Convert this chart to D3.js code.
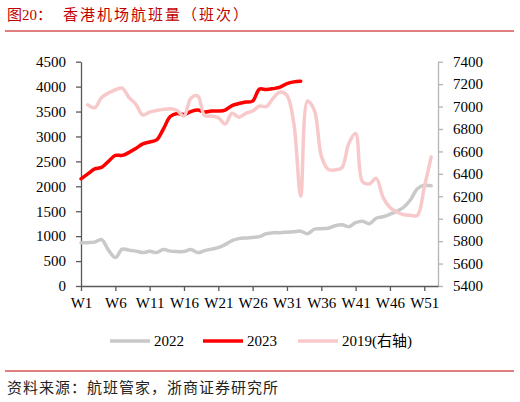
<!DOCTYPE html>
<html><head><meta charset="utf-8">
<script src="https://cdn.jsdelivr.net/npm/d3@7"></script>
<style>
body{margin:0;background:#fff}
svg{display:block;font-family:"Liberation Serif","Noto Sans CJK SC",serif}
.ax path,.ax line{stroke:#595959;stroke-width:1.3}
.ax.r path,.ax.r line{stroke:#b4b4b4}
.ax text{font-size:15px;fill:#000;font-family:"Liberation Serif",serif}
.ttl{font-size:15px;fill:#c00000}
.src{font-size:15px;fill:#222;letter-spacing:1px}
</style></head><body>
<svg id="chart" width="520" height="402"></svg>
<script>
// week ticks on the x axis and the two value axes
const X_TICKS=['W1','W6','W11','W16','W21','W26','W31','W36','W41','W46','W51'];
const Y_LEFT=[0,500,1000,1500,2000,2500,3000,3500,4000,4500];
const Y_RIGHT=[5400,5600,5800,6000,6200,6400,6600,6800,7000,7200,7400];

// series, one value per week starting at W1 (null = no data)
const S2022=[870,870,880,930,720,570,740,720,700,670,695,670,730,700,690,690,730,670,710,740,
  770,830,910,950,965,975,990,1050,1070,1070,1080,1090,1100,1050,1140,1150,1160,1210,1230,1190,
  1270,1300,1250,1360,1390,1440,1500,1580,1730,1950,2020,2010];
const S2023=[2150,2250,2350,2380,2500,2620,2620,2680,2760,2850,2890,2930,3150,3400,3460,3440,3500,
  3530,3490,3510,3510,3530,3620,3660,3690,3710,3950,3940,3960,3990,4060,4095,4110];
const S2019=[null,7015,6990,7080,7120,7150,7165,7080,7020,6925,6950,6965,6975,6980,6965,6915,7075,
  7095,6920,6915,6900,6845,6940,6905,6940,6960,7005,7000,7075,7130,7100,6850,6200,7050,6965,6560,
  6440,6435,6455,6670,6760,6330,6310,6360,6190,6100,6060,6035,6030,6030,6280,6550];

const LEGEND=[
  {name:'2022',color:'#c9c9c9'},
  {name:'2023',color:'#ff0000'},
  {name:'2019(右轴)',color:'#f8c9ca'},
];

const svg=d3.select('#chart');
const L=81,R=438,T=61.7,B=286;
const x=d3.scaleLinear().domain([1,53]).range([L,R]);
const yL=d3.scaleLinear().domain([0,4500]).range([B,T]);
const yR=d3.scaleLinear().domain([5400,7400]).range([B,T]);
const fmt=d3.format('d');

// title + rules
svg.append('text').attr('class','ttl').attr('x',7).attr('y',20).text('图20：');
svg.append('text').attr('class','ttl').attr('x',63).attr('y',20).attr('letter-spacing','2px').text('香港机场航班量（班次）');
svg.append('line').attr('x1',5).attr('x2',514).attr('y1',31).attr('y2',31).attr('stroke','#c00000').attr('stroke-width',1);
svg.append('line').attr('x1',5).attr('x2',514).attr('y1',371).attr('y2',371).attr('stroke','#c00000').attr('stroke-width',1);
svg.append('text').attr('class','src').attr('x',7).attr('y',393).text('资料来源：航班管家，浙商证券研究所');

// axes
svg.append('g').attr('class','ax').attr('transform',`translate(${L},0)`)
  .call(d3.axisLeft(yL).tickValues(Y_LEFT).tickFormat(fmt).tickSize(5).tickSizeOuter(0).tickPadding(10));
svg.append('g').attr('class','ax r').attr('transform',`translate(${R},0)`)
  .call(d3.axisRight(yR).tickValues(Y_RIGHT).tickFormat(fmt).tickSize(5).tickSizeOuter(0).tickPadding(10));
const wk=X_TICKS.map(t=>+t.slice(1));
svg.append('g').attr('class','ax').attr('transform',`translate(0,${B})`)
  .call(d3.axisBottom(x).tickValues(wk).tickFormat((d,i)=>X_TICKS[i]).tickSize(5).tickSizeOuter(0).tickPadding(6));

// lines
const mk=(arr,y)=>d3.line().defined(d=>d!=null).x((d,i)=>x(i+1)).y(d=>y(d)).curve(d3.curveCatmullRom.alpha(0.5))(arr);
svg.append('path').attr('d',mk(S2022,yL)).attr('fill','none').attr('stroke',LEGEND[0].color).attr('stroke-width',3.5).attr('stroke-linecap','round');
svg.append('path').attr('d',mk(S2023,yL)).attr('fill','none').attr('stroke',LEGEND[1].color).attr('stroke-width',3.5).attr('stroke-linecap','round');
svg.append('path').attr('d',mk(S2019,yR)).attr('fill','none').attr('stroke',LEGEND[2].color).attr('stroke-width',3.5).attr('stroke-linecap','round');

// legend
const lx=[110,203,298];
const lg=svg.append('g').selectAll('g').data(LEGEND).join('g').attr('transform',(d,i)=>`translate(${lx[i]},341)`);
lg.append('line').attr('x1',0).attr('x2',40).attr('stroke',d=>d.color).attr('stroke-width',3.5);
lg.append('text').attr('x',44).attr('y',5).style('font-size','15px').text(d=>d.name);
</script>
</body></html>
